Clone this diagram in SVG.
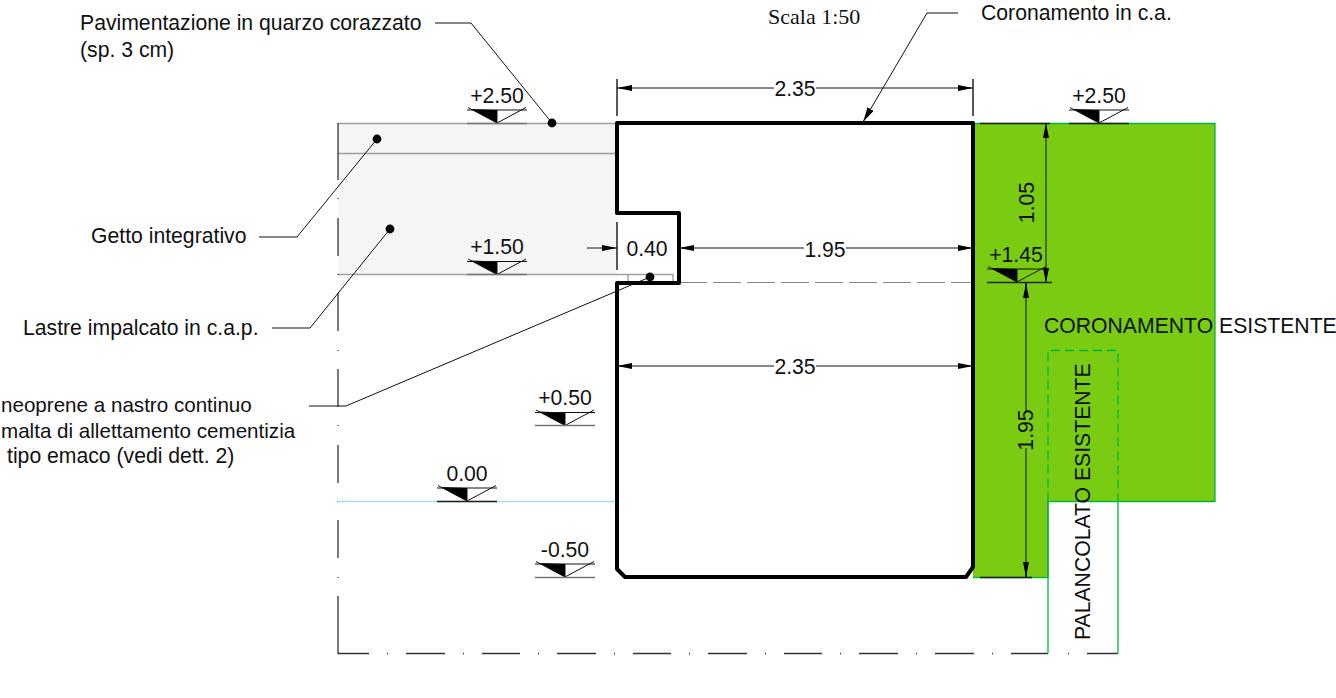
<svg xmlns="http://www.w3.org/2000/svg" width="1336" height="698" viewBox="0 0 1336 698">
<style>
text{font-family:"Liberation Sans",Arial,sans-serif;font-size:21.200px;fill:#111}
.m{text-anchor:middle}
.thin{fill:none;stroke:#111;stroke-width:1}
.gl{fill:none;stroke:#00b838;stroke-width:1.3}
.gy{fill:none;stroke:#a0a0a0;stroke-width:1.4}
.ax{fill:none;stroke:#333;stroke-width:1.3}
.tick{fill:none;stroke:#777;stroke-width:1.5}
.tickd{fill:none;stroke:#222;stroke-width:1.5}
</style>
<defs>
<marker id="ar" viewBox="0 0 15 6" refX="15" refY="3" markerWidth="15" markerHeight="6" markerUnits="userSpaceOnUse" orient="auto-start-reverse"><path d="M0 0L15 3L0 6Z" fill="#000"/></marker>
<marker id="as" viewBox="0 0 15 7" refX="15" refY="3.500" markerWidth="15" markerHeight="7" markerUnits="userSpaceOnUse" orient="auto"><path d="M0 0L15 3.500L0 7Z" fill="#000"/></marker>
<g id="lv"><path d="M4 -1L30 0V13Z" fill="#000"/><path class="thin" d="M0 0H60M1 -2.500L30 13L59 -2.500M30 0V13"/></g>
</defs>

<g id="deck">
<rect x="338" y="123.500" width="279" height="151" fill="#f5f5f5"/>
<path class="gy" d="M338 123.500H617M338 153.500H617M338 274.500H628"/>
<path class="gy" d="M628 274.500H673V283M628 274.500V283"/>
</g>
<g id="axis-lines">
<path class="ax" d="M338 123V180M338 198V199M338 218V256M338 274V275M338 293V331M338 350V351M338 369V407M338 425V426M338 445V483M338 501V502M338 520V558M338 577V578M338 596V653.500H369M387 653.500H388M406 653.500H445M463 653.500H464M482 653.500H520M538 653.500H539M557 653.500H596M614 653.500H615M633 653.500H671M689 653.500H690M708 653.500H747M765 653.500H766M784 653.500H822M840 653.500H841M859 653.500H898M916 653.500H917M935 653.500H974M992 653.500H993M1011 653.500H1048M1068 653.500H1069M1087 653.500H1118"/>
<path d="M338 501.500H617" fill="none" stroke="#9fe3f5" stroke-width="1.500"/>
<path d="M679 282.500H973" fill="none" stroke="#888" stroke-width="1" stroke-dasharray="28 6"/>
</g>
<g id="coronamento-esistente">
<path d="M973 123.500H1215V501.500H1048V577.500H973Z" fill="#7acc12"/>
<path class="gl" d="M973 123.500H1215V501.500H1048V577.500H973"/>
</g>
<g id="palancolato">
<path class="gl" d="M1048 501.500V653.500M1118 501.500V653.500"/>
<path class="gl" stroke-dasharray="9 5" d="M1048 501.500V350.500H1118V501.500"/>
</g>
<g id="coronamento">
<path d="M617 123H973V567L966 577H625L617 569V283H679V213H617Z" fill="none" stroke="#000" stroke-width="4" stroke-linejoin="round"/>
</g>

<g id="connectors">
<path class="thin" d="M435 23H471L552 123"/>
<circle cx="552" cy="123" r="4.400"/>
<path class="thin" d="M958 13H927L863 122" marker-end="url(#as)"/>
<path class="thin" d="M259 237H297L377 139"/>
<circle cx="377" cy="139" r="4.400"/>
<path class="thin" d="M272 328H310L390 229"/>
<circle cx="390" cy="229" r="4.400"/>
<path class="thin" d="M309 406H346L650 277"/>
<circle cx="650" cy="277" r="4.400"/>
</g>

<g id="dimensions">
<path class="tickd" d="M617 79V116M973 79V116M617 222V270M980 123.500H1050M980 577.500H1032"/>
<path class="thin" d="M617 88H774" marker-start="url(#ar)"/>
<path class="thin" d="M816 88H973" marker-end="url(#ar)"/>
<text class="m" x="795" y="96">2.35</text>
<path class="thin" d="M587 248H617" marker-end="url(#ar)"/>
<text class="m" x="647" y="256">0.40</text>
<path class="thin" d="M679 248H804" marker-start="url(#ar)"/>
<path class="thin" d="M846 248H973" marker-end="url(#ar)"/>
<text class="m" x="825" y="257">1.95</text>
<path class="thin" d="M617 366H774" marker-start="url(#ar)"/>
<path class="thin" d="M816 366H973" marker-end="url(#ar)"/>
<text class="m" x="795" y="374">2.35</text>
<path class="thin" d="M1046 123V283" marker-start="url(#ar)" marker-end="url(#ar)"/>
<text class="m" transform="translate(1034 202.500) rotate(-90)">1.05</text>
<path class="thin" d="M1026 283V412M1026 448V577" />
<path class="thin" d="M1026 298V283" marker-end="url(#ar)"/>
<path class="thin" d="M1026 562V577" marker-end="url(#ar)"/>
<text class="m" transform="translate(1033 430) rotate(-90)">1.95</text>
</g>

<g id="levels">
<use href="#lv" x="467" y="110"/><text class="m" x="497" y="103">+2.50</text><path class="tick" d="M467 123.500H527"/>
<use href="#lv" x="467" y="261.500"/><text class="m" x="497" y="254">+1.50</text><path class="tick" d="M467 274.500H527"/>
<use href="#lv" x="535" y="412.500"/><text class="m" x="565" y="405">+0.50</text><path class="tick" d="M535 425.500H595"/>
<use href="#lv" x="437" y="488"/><text class="m" x="467" y="481">0.00</text><path class="tickd" d="M437 501.500H497"/>
<use href="#lv" x="535" y="564"/><text class="m" x="565" y="557">-0.50</text><path class="tick" d="M535 577.500H595"/>
<use href="#lv" x="1069" y="110"/><text class="m" x="1099" y="103">+2.50</text><path class="tickd" d="M1069 123.500H1129"/>
<use href="#lv" x="987" y="269"/><text class="m" x="1016" y="262">+1.45</text><path class="tickd" d="M987 282.500H1052"/>
</g>

<g id="labels">
<text x="80" y="30">Pavimentazione in quarzo corazzato</text>
<text x="80" y="57">(sp. 3 cm)</text>
<text x="768" y="24" style="font-family:'Liberation Serif',serif;font-size:22px">Scala 1:50</text>
<text x="981" y="20">Coronamento in c.a.</text>
<text x="91" y="243">Getto integrativo</text>
<text x="23" y="335">Lastre impalcato in c.a.p.</text>
<text x="1" y="412" style="font-size:20.600px">neoprene a nastro continuo</text>
<text x="1" y="438" style="font-size:20.600px">malta di allettamento cementizia</text>
<text x="7" y="463">tipo emaco (vedi dett. 2)</text>
<text x="1044" y="333">CORONAMENTO ESISTENTE</text>
<text transform="translate(1090 640) rotate(-90)">PALANCOLATO ESISTENTE</text>
</g>
</svg>
